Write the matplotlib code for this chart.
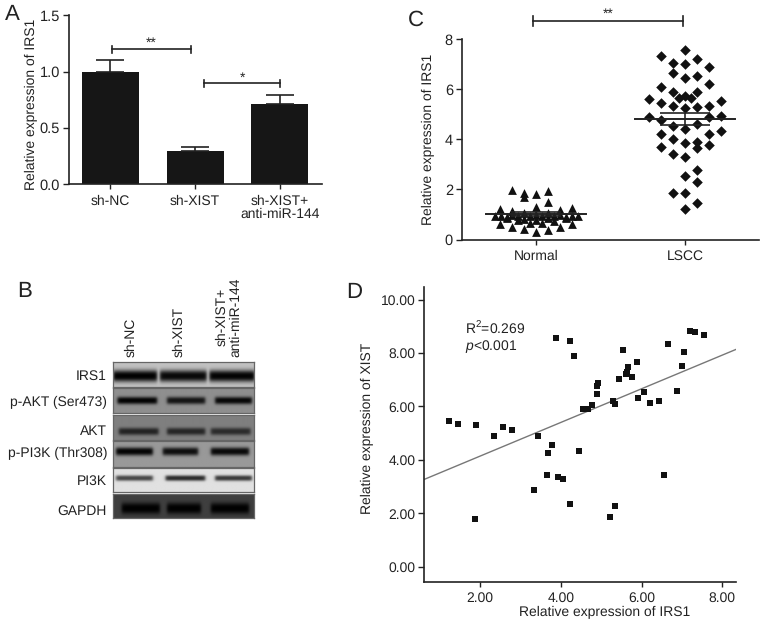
"""Relative IRS1 / XIST expression panels with western blot (panels A-D)."""

import numpy as np
import matplotlib
matplotlib.use("Agg")
import matplotlib.pyplot as plt

WIDTH, HEIGHT = 765, 625
INK = "#222222"

plt.rcParams["font.family"] = ["Liberation Sans", "DejaVu Sans"]
plt.rcParams["font.size"] = 10
plt.rcParams["text.hinting"] = "no_hinting"
plt.rcParams["mathtext.fontset"] = "custom"
plt.rcParams["mathtext.rm"] = "Liberation Sans"
plt.rcParams["mathtext.it"] = "Liberation Sans:italic"
plt.rcParams["mathtext.default"] = "regular"

# Panel A
bar_labels = ["sh-NC", "sh-XIST", "sh-XIST+\nanti-miR-144"]
bar_values = [1.00, 0.29, 0.71]
bar_errors = [0.10, 0.04, 0.08]
bar_ticks = [0.0, 0.5, 1.0, 1.5]

# Panel C: swarm column (in marker widths from the group centre) and value
normal_cols = [-2, -1, -1, 0, 1, 1, 0, -3, 3, -2, 2,
               -3.4, -2.9, -2.4, -2, -1.5, -1, -0.5, 0, 0.5, 1, 1.5, 2, 2.5, 3, 3.5,
               -3, -2, -1, 0, 1, 2, 3, -0.5, 0.5, 1.5, -1.5, -2.4, -1, 0, 1, 2.5]
normal_vals = [1.97, 1.84, 1.71, 1.83, 1.93, 1.51, 1.31, 1.21, 1.27, 1.15, 1.17,
               0.95, 0.93, 0.91, 0.97, 0.93, 1.04, 0.93, 0.97, 0.93, 1.04, 0.93, 0.97, 0.91, 0.93, 0.95,
               0.61, 0.50, 0.40, 0.28, 0.37, 0.50, 0.61, 0.67, 0.64, 0.75, 0.77, 0.84, 0.80, 0.77, 0.84, 0.84]
lscc_cols = [0, -2, -1, 0, 1, 2, -1, 0, 1, 2, -2, -1, 1, -3, 3, -2,
             -0.5, 0, 0.5, -1, 0, 1, 2, -3, -2, 2, 3, -1, 0, 1, 3, -2,
             2, -1, 0, 1, 1, -2, 2, -1, 0, 1, 0, 1, -1, 0, 1, 0]
lscc_vals = [7.57, 7.32, 7.07, 7.01, 7.21, 6.89, 6.65, 6.44, 6.55, 6.20, 6.08, 5.89, 5.91, 5.63, 5.55, 5.45,
             5.67, 5.75, 5.64, 5.33, 5.24, 5.28, 5.33, 4.91, 4.77, 4.88, 4.92, 4.53, 4.43, 4.63, 4.32, 4.23,
             4.20, 4.03, 3.87, 3.91, 3.64, 3.68, 3.76, 3.40, 3.31, 2.76, 2.55, 2.31, 1.85, 1.85, 1.44, 1.20]
group_labels = ["Normal", "LSCC"]
group_means = [1.02, 4.81]
group_sems = [0.08, 0.23]

# Panel D
irs1_vals = [1.22, 1.46, 1.89, 1.88, 2.34, 2.56, 2.78, 3.34, 3.43, 3.67, 3.69, 3.78,
             3.89, 3.92, 4.05, 4.22, 4.23, 4.32, 4.44, 4.56, 4.67, 4.78, 4.90, 4.92,
             4.90, 5.22, 5.28, 5.33, 5.33, 5.44, 5.55, 5.61, 5.64, 5.67, 5.76, 5.89,
             5.92, 6.07, 6.21, 6.44, 6.55, 6.65, 6.88, 7.00, 7.05, 7.21, 7.31, 7.55]
xist_vals = [5.45, 5.35, 5.32, 1.77, 4.90, 5.22, 5.11, 2.88, 4.89, 3.44, 4.24, 4.55,
             8.57, 3.34, 3.30, 8.45, 2.33, 7.88, 4.34, 5.92, 5.89, 6.05, 6.78, 6.87,
             6.45, 1.88, 6.22, 6.08, 2.28, 7.02, 8.12, 7.22, 7.29, 7.46, 7.11, 7.66,
             6.33, 6.53, 6.11, 6.22, 3.44, 8.33, 6.56, 7.53, 8.05, 8.84, 8.77, 8.68]
fit_x = [0.62, 8.33]
fit_y = [3.27, 8.13]

# Panel B: band strength per lane, blot background and band position
blot_labels = ["IRS1", "p-AKT (Ser473)", "AKT", "p-PI3K (Thr308)", "PI3K", "GAPDH"]
blot_background = [0.76, 0.56, 0.50, 0.60, 0.88, 0.25]
blot_darkness = [[0.99, 0.95, 0.98], [0.98, 0.85, 0.95], [0.72, 0.70, 0.66],
                 [0.97, 0.90, 0.94], [0.68, 0.80, 0.74], [0.98, 0.98, 0.98]]
blot_centres = [0.56, 0.50, 0.66, 0.40, 0.42, 0.60]
blot_thickness = [0.24, 0.15, 0.15, 0.16, 0.12, 0.24]
blot_lanes = [[(0.00, 0.31), (0.33, 0.66), (0.68, 1.00)],
              [(0.03, 0.31), (0.38, 0.65), (0.72, 0.98)],
              [(0.04, 0.32), (0.38, 0.65), (0.69, 0.97)],
              [(0.02, 0.28), (0.35, 0.60), (0.69, 0.96)],
              [(0.02, 0.28), (0.37, 0.65), (0.72, 0.98)],
              [(0.06, 0.33), (0.38, 0.62), (0.69, 0.96)]]


def pixel_axes(fig, left, top, right, bottom):
    """Add axes placed by pixel edges, measured from the top left."""
    return fig.add_axes([left / WIDTH, 1 - bottom / HEIGHT,
                         (right - left) / WIDTH, (bottom - top) / HEIGHT])


def pixel_text(fig, x, y, text, **kwargs):
    kwargs.setdefault("va", "center")
    kwargs.setdefault("color", INK)
    return fig.text(x / WIDTH, 1 - y / HEIGHT, text, **kwargs)


def style_axis(axis):
    for side in ("top", "right"):
        axis.spines[side].set_visible(False)
    for side in ("left", "bottom"):
        axis.spines[side].set_linewidth(1.2)
        axis.spines[side].set_color(INK)
    axis.patch.set_alpha(0)
    axis.tick_params(axis="y", length=4.5, width=1.0, color=INK, labelcolor=INK, pad=2, labelsize=10.5)
    axis.tick_params(axis="x", length=3.5, width=1.0, color=INK, labelcolor=INK, pad=4, labelsize=10)


def place_ylabel(fig, axis, text, x, y):
    axis.set_ylabel(text, color=INK, fontsize=10, va="center")
    axis.yaxis.set_label_coords(x / WIDTH, 1 - y / HEIGHT, transform=fig.transFigure)


def bracket(axis, start, end, level, drop, star_text, star_level):
    axis.plot([start, end], [level, level], color=INK, lw=1.2, clip_on=False)
    for edge in (start, end):
        axis.plot([edge, edge], [level - drop, level + drop], color=INK, lw=1.2, clip_on=False)
    axis.text((start + end) / 2, star_level, star_text, ha="center", va="center",
              fontsize=10, color=INK, clip_on=False)


def band_image(background, darkness, lanes, centre, thickness):
    rows = np.linspace(0, 1, 50)[:, None]
    cols = np.linspace(0, 1, 282)[None, :]
    shade = np.zeros((50, 282))
    for strength, (start, end) in zip(darkness, lanes):
        across = 0.5 * (np.tanh((cols - start) / 0.012) - np.tanh((cols - end) / 0.012))
        down = np.exp(-(np.abs((rows - centre) / thickness) ** 2.6))
        shade = np.maximum(shade, strength * across * down)
    return background * (1 - shade)


fig = plt.figure(figsize=(WIDTH / 100, HEIGHT / 100), dpi=100)
fig.patch.set_facecolor("white")

# A: bar chart
axis_a = pixel_axes(fig, 69, 15.3, 322, 184)
positions = np.arange(len(bar_values))
axis_a.bar(positions, bar_values, width=0.675, color="#161616")
axis_a.errorbar(positions, bar_values, yerr=[[0] * 3, bar_errors], fmt="none",
                ecolor=INK, elinewidth=1.2, capsize=10, capthick=1.2)
axis_a.set_xlim(-0.49, 2.50)
axis_a.set_ylim(0, 1.5)
axis_a.set_xticks(positions, bar_labels, linespacing=1.05)
axis_a.set_yticks(bar_ticks, [f"{tick:.1f}" for tick in bar_ticks])
style_axis(axis_a)
place_ylabel(fig, axis_a, "Relative expression of IRS1", 31, 104)
bracket(axis_a, 0.02, 0.95, 1.197, 0.03, "**", 1.255)
bracket(axis_a, 1.11, 2.00, 0.895, 0.03, "*", 0.945)

# C: swarm plot
axis_c = pixel_axes(fig, 462, 39.3, 759, 239.5)
column_step = 0.0805
axis_c.scatter(1 + np.array(normal_cols) * column_step, normal_vals, marker="^", s=40,
               color="#111111", linewidths=0, zorder=3)
axis_c.scatter(2 + np.array(lscc_cols) * column_step, lscc_vals, marker="D", s=29,
               color="#111111", linewidths=0, zorder=3)
for centre, mean, sem in zip((1, 2), group_means, group_sems):
    axis_c.plot([centre - 0.336, centre + 0.336], [mean, mean], color=INK, lw=1.4, zorder=4)
    axis_c.errorbar([centre], [mean], yerr=[sem], fmt="none", ecolor=INK, elinewidth=1.2,
                    capsize=18, capthick=1.2, zorder=4)
axis_c.set_xlim(0.503, 2.497)
axis_c.set_ylim(0, 8)
axis_c.set_xticks([1, 2], group_labels)
axis_c.set_yticks([0, 2, 4, 6, 8])
style_axis(axis_c)
place_ylabel(fig, axis_c, "Relative expression of IRS1", 428, 139)
bracket(axis_c, 0.98, 1.99, 8.73, 0.2, "**", 9.0)

# B: western blot
blot_edges = [(362, 387), (388, 413), (415, 440), (441, 467), (468, 492), (494, 518)]
label_levels = [376, 402, 431, 453, 481, 511]
for index, (top, bottom) in enumerate(blot_edges):
    axis_b = pixel_axes(fig, 113, top, 254, bottom)
    image = band_image(blot_background[index], blot_darkness[index], blot_lanes[index],
                       blot_centres[index], blot_thickness[index])
    axis_b.imshow(image, cmap="gray", vmin=0, vmax=1, aspect="auto", interpolation="bilinear")
    axis_b.set_xticks([])
    axis_b.set_yticks([])
    for spine in axis_b.spines.values():
        spine.set_color("#666666")
        spine.set_linewidth(0.9)
    pixel_text(fig, 107, label_levels[index], blot_labels[index], ha="right", fontsize=10)
for lane_x, lane_text in zip((131, 179, 229), bar_labels):
    pixel_text(fig, lane_x, 357, lane_text, ha="center", va="bottom", rotation=90,
               fontsize=10, linespacing=1.05, multialignment="center")

# D: correlation
axis_d = pixel_axes(fig, 424.3, 287, 735.7, 581.7)
axis_d.scatter(irs1_vals, xist_vals, marker="s", s=21, color="#111111", linewidths=0, zorder=3)
axis_d.plot(fit_x, fit_y, color="#777777", lw=1.0, zorder=2)
axis_d.set_xlim(0.62, 8.33)
axis_d.set_ylim(-0.56, 10.47)
axis_d.set_xticks([2, 4, 6, 8], ["2.00", "4.00", "6.00", "8.00"])
axis_d.set_yticks([0, 2, 4, 6, 8, 10], ["0.00", "2.00", "4.00", "6.00", "8.00", "10.00"])
style_axis(axis_d)
axis_d.tick_params(axis="y", labelsize=10)
axis_d.set_xlabel("Relative expression of IRS1", color=INK, fontsize=10, va="center")
axis_d.xaxis.set_label_coords(605 / WIDTH, 1 - 612.7 / HEIGHT, transform=fig.transFigure)
place_ylabel(fig, axis_d, "Relative expression of XIST", 367, 428)
pixel_text(fig, 465, 328.5, r"R$^{2}$=0.269", fontsize=10)
pixel_text(fig, 465, 347, r"$\mathit{p}$<0.001", fontsize=10)

# Panel letters
for letter, x, y in (("A", 5, 14), ("C", 408, 20), ("B", 17, 291), ("D", 346, 292)):
    pixel_text(fig, x, y, letter, fontsize=16)

fig.savefig("out.png", dpi=100)
